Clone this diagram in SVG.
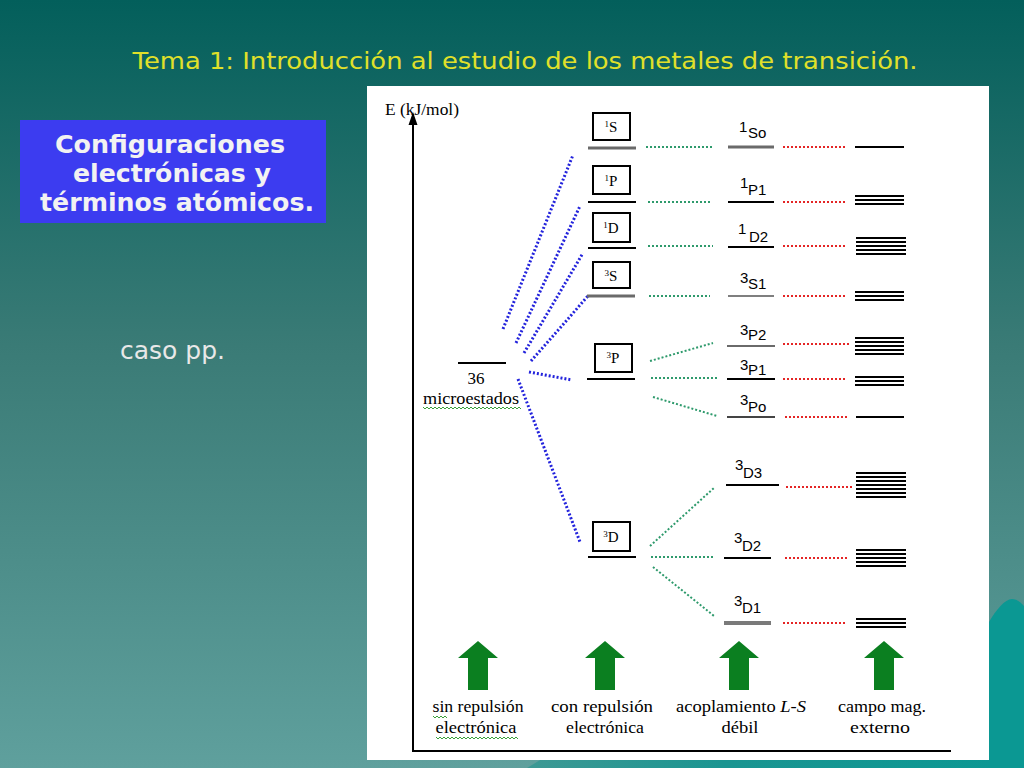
<svg xmlns="http://www.w3.org/2000/svg" width="1024" height="768" viewBox="0 0 1024 768">
<defs>
<linearGradient id="bg" x1="0" y1="0" x2="0" y2="1">
<stop offset="0" stop-color="#035f5b"/>
<stop offset="0.45" stop-color="#3a7b76"/>
<stop offset="1" stop-color="#5fa09d"/>
</linearGradient>
<linearGradient id="sw" x1="0" y1="0" x2="1" y2="0">
<stop offset="0" stop-color="#3d9994"/>
<stop offset="0.4" stop-color="#1a9591"/>
<stop offset="1" stop-color="#0a9893"/>
</linearGradient>
<path id="garrow" d="M0 0 L20 17 L10 17 L10 49 L-10 49 L-10 17 L-20 17 Z" fill="#0b7f20"/>
<style>
.lvl{stroke:#000;stroke-width:2}
.lvlg{stroke:#6a6a6a;stroke-width:3}
.lvlt{stroke:#555;stroke-width:1.5}
.fs{stroke:#000;stroke-width:2}
.blue{stroke:#2323dc;stroke-width:3;stroke-dasharray:2 2;fill:none}
.green{stroke:#2e9a6c;stroke-width:2;stroke-dasharray:2 2;fill:none}
.red{stroke:#e42525;stroke-width:2;stroke-dasharray:2 2;fill:none}
.box{fill:#fff;stroke:#000;stroke-width:2}
.ser{font-family:"Liberation Serif","Times New Roman",serif;fill:#000}
.sans{font-family:"Liberation Sans",Arial,sans-serif;fill:#000;font-size:15px}
.sq{stroke:#3aa03a;stroke-width:1;fill:none}
</style>
</defs>

<!-- background -->
<rect x="0" y="0" width="1024" height="768" fill="url(#bg)"/>
<path d="M527 768 L545 757 L1024 757 L1024 768 Z" fill="url(#sw)"/>
<path d="M989 622 C996 610 1005 599 1012 599 C1017 599 1021 603 1024 606 L1024 768 L989 768 Z" fill="#0b9893"/>

<!-- title -->
<text x="525" y="69" text-anchor="middle" font-family="DejaVu Sans, Verdana, sans-serif" font-size="23" fill="#e0e02a" textLength="785" lengthAdjust="spacingAndGlyphs">Tema 1: Introducción al estudio de los metales de transición.</text>

<!-- blue box -->
<g id="heading">
<rect x="20" y="120" width="306" height="103" fill="#3c3cf0"/>
<g font-family="DejaVu Sans, Verdana, sans-serif" font-weight="bold" font-size="24" fill="#f2f2f2">
<text x="55" y="153" textLength="230" lengthAdjust="spacingAndGlyphs">Configuraciones</text>
<text x="73" y="182" textLength="198" lengthAdjust="spacingAndGlyphs">electrónicas y</text>
<text x="40" y="211" textLength="274" lengthAdjust="spacingAndGlyphs">términos atómicos.</text>
</g>
</g>

<text x="120" y="359" font-family="DejaVu Sans, Verdana, sans-serif" font-size="24" fill="#e8e8e8" textLength="105" lengthAdjust="spacingAndGlyphs">caso pp.</text>

<!-- white panel -->
<rect x="367" y="86" width="622" height="674" fill="#fff"/>

<!-- axes -->
<g id="axes">
<line x1="413" y1="120" x2="413" y2="751" stroke="#000" stroke-width="2"/>
<line x1="412" y1="751" x2="951" y2="751" stroke="#000" stroke-width="2"/>
<path d="M413 112 L417.5 125 L408.5 125 Z" fill="#000"/>
<text class="ser" x="385" y="115" font-size="16" textLength="74" lengthAdjust="spacingAndGlyphs">E (kJ/mol)</text>
</g>

<!-- connectors -->
<g id="connectors">
<!-- blue: microstates to terms -->
<line class="blue" x1="503" y1="329" x2="573" y2="155"/>
<line class="blue" x1="516" y1="343" x2="580" y2="206"/>
<line class="blue" x1="524" y1="353" x2="583" y2="253"/>
<line class="blue" x1="531" y1="361" x2="588" y2="296"/>
<line class="blue" x1="529" y1="372" x2="572" y2="380"/>
<line class="blue" x1="518" y1="379" x2="580" y2="542"/>
<!-- green: terms to LS levels -->
<line class="green" x1="646" y1="147" x2="713" y2="147"/>
<line class="green" x1="648" y1="202" x2="710" y2="202"/>
<line class="green" x1="648" y1="246" x2="713" y2="246"/>
<line class="green" x1="649" y1="296" x2="710" y2="296"/>
<line class="green" x1="650" y1="361" x2="713" y2="343"/>
<line class="green" x1="651" y1="378" x2="717" y2="378"/>
<line class="green" x1="653" y1="397" x2="717" y2="416"/>
<line class="green" x1="650" y1="546" x2="715" y2="487"/>
<line class="green" x1="651" y1="557" x2="713" y2="557"/>
<line class="green" x1="653" y1="567" x2="714" y2="616"/>
<!-- red: LS levels to field splitting -->
<line class="red" x1="783" y1="147" x2="845" y2="147"/>
<line class="red" x1="783" y1="202" x2="845" y2="202"/>
<line class="red" x1="783" y1="246" x2="845" y2="246"/>
<line class="red" x1="783" y1="296" x2="845" y2="296"/>
<line class="red" x1="783" y1="344" x2="850" y2="344"/>
<line class="red" x1="783" y1="379" x2="845" y2="379"/>
<line class="red" x1="785" y1="417" x2="847" y2="417"/>
<line class="red" x1="786" y1="487" x2="853" y2="487"/>
<line class="red" x1="785" y1="558" x2="847" y2="558"/>
<line class="red" x1="783" y1="623" x2="845" y2="623"/>
</g>

<!-- microstates -->
<g id="microestados">
<line class="lvl" x1="458" y1="363" x2="506" y2="363"/>
<text class="ser" x="476" y="384" font-size="17" text-anchor="middle">36</text>
<text class="ser" x="423" y="404" font-size="16" textLength="96" lengthAdjust="spacingAndGlyphs">microestados</text>
<path class="sq" d="M423 407 l2 2 l2 -2 l2 2 l2 -2 l2 2 l2 -2 l2 2 l2 -2 l2 2 l2 -2 l2 2 l2 -2 l2 2 l2 -2 l2 2 l2 -2 l2 2 l2 -2 l2 2 l2 -2 l2 2 l2 -2 l2 2 l2 -2 l2 2 l2 -2 l2 2 l2 -2 l2 2 l2 -2 l2 2 l2 -2 l2 2 l2 -2 l2 2 l2 -2 l2 2 l2 -2 l2 2 l2 -2 l2 2 l2 -2 l2 2 l2 -2 l2 2 l2 -2 l2 2 l2 -2 l2 2"/>
</g>

<!-- Russell-Saunders terms -->
<g id="term-1S">
<rect class="box" x="593" y="113" width="37" height="27"/>
<text class="ser" x="611" y="132" font-size="15" text-anchor="middle"><tspan font-size="9" dy="-5">1</tspan><tspan dy="5">S</tspan></text>
<line class="lvlg" x1="588" y1="148" x2="636" y2="148"/>
</g>
<g id="term-1P">
<rect class="box" x="593" y="166" width="37" height="28"/>
<text class="ser" x="611" y="186" font-size="15" text-anchor="middle"><tspan font-size="9" dy="-5">1</tspan><tspan dy="5">P</tspan></text>
<line class="lvl" x1="588" y1="202" x2="636" y2="202"/>
</g>
<g id="term-1D">
<rect class="box" x="593" y="213" width="37" height="29"/>
<text class="ser" x="611" y="233" font-size="15" text-anchor="middle"><tspan font-size="9" dy="-5">1</tspan><tspan dy="5">D</tspan></text>
<line class="lvl" x1="588" y1="248" x2="636" y2="248"/>
</g>
<g id="term-3S">
<rect class="box" x="593" y="262" width="37" height="26"/>
<text class="ser" x="611" y="281" font-size="15" text-anchor="middle"><tspan font-size="9" dy="-5">3</tspan><tspan dy="5">S</tspan></text>
<line class="lvlg" x1="587" y1="296" x2="635" y2="296"/>
</g>
<g id="term-3P">
<rect class="box" x="595" y="344" width="37" height="28"/>
<text class="ser" x="613" y="363" font-size="15" text-anchor="middle"><tspan font-size="9" dy="-5">3</tspan><tspan dy="5">P</tspan></text>
<line class="lvl" x1="587" y1="379" x2="635" y2="379"/>
</g>
<g id="term-3D">
<rect class="box" x="593" y="522" width="37" height="29"/>
<text class="ser" x="611" y="542" font-size="15" text-anchor="middle"><tspan font-size="9" dy="-5">3</tspan><tspan dy="5">D</tspan></text>
<line class="lvl" x1="588" y1="557" x2="636" y2="557"/>
</g>

<!-- LS coupling levels -->
<g id="level-1S0">
<line class="lvlg" x1="728" y1="147" x2="774" y2="147"/>
<text class="sans" x="739" y="132">1</text><text class="sans" x="748" y="138">So</text>
</g>
<g id="level-1P1">
<line class="lvl" x1="728" y1="202" x2="774" y2="202"/>
<text class="sans" x="740" y="188">1</text><text class="sans" x="748" y="195">P1</text>
</g>
<g id="level-1D2">
<line class="lvl" x1="728" y1="247" x2="774" y2="247"/>
<text class="sans" x="738" y="234">1</text><text class="sans" x="749" y="242">D2</text>
</g>
<g id="level-3S1">
<line class="lvlt" x1="728" y1="296" x2="774" y2="296"/>
<text class="sans" x="740" y="283">3</text><text class="sans" x="748" y="289">S1</text>
</g>
<g id="level-3P2">
<line class="lvlg" x1="727" y1="346" x2="775" y2="346" style="stroke-width:2"/>
<text class="sans" x="740" y="335">3</text><text class="sans" x="748" y="340">P2</text>
</g>
<g id="level-3P1">
<line class="lvl" x1="727" y1="379" x2="775" y2="379"/>
<text class="sans" x="740" y="370">3</text><text class="sans" x="748" y="375">P1</text>
</g>
<g id="level-3P0">
<line class="lvl" x1="727" y1="417" x2="775" y2="417" style="stroke:#444"/>
<text class="sans" x="740" y="405">3</text><text class="sans" x="748" y="412">Po</text>
</g>
<g id="level-3D3">
<line class="lvl" x1="726" y1="485" x2="779" y2="485"/>
<text class="sans" x="735" y="470">3</text><text class="sans" x="743" y="478">D3</text>
</g>
<g id="level-3D2">
<line class="lvl" x1="724" y1="558" x2="771" y2="558"/>
<text class="sans" x="734" y="543">3</text><text class="sans" x="742" y="551">D2</text>
</g>
<g id="level-3D1">
<line x1="724" y1="623" x2="771" y2="623" stroke="#7a7a7a" stroke-width="4"/>
<text class="sans" x="734" y="606">3</text><text class="sans" x="742" y="613">D1</text>
</g>

<!-- field splitting -->
<g id="field-1S0"><line class="fs" x1="855" y1="147" x2="904" y2="147"/></g>
<g id="field-1P1">
<line class="fs" x1="855" y1="196" x2="904" y2="196"/><line class="fs" x1="855" y1="200" x2="904" y2="200"/><line class="fs" x1="855" y1="204" x2="904" y2="204"/>
</g>
<g id="field-1D2">
<line class="fs" x1="856" y1="238" x2="906" y2="238"/><line class="fs" x1="856" y1="242" x2="906" y2="242"/><line class="fs" x1="856" y1="246" x2="906" y2="246"/><line class="fs" x1="856" y1="250" x2="906" y2="250"/><line class="fs" x1="856" y1="254" x2="906" y2="254"/>
</g>
<g id="field-3S1">
<line class="fs" x1="855" y1="292" x2="904" y2="292"/><line class="fs" x1="855" y1="296" x2="904" y2="296"/><line class="fs" x1="855" y1="300" x2="904" y2="300"/>
</g>
<g id="field-3P2">
<line class="fs" x1="855" y1="338" x2="904" y2="338"/><line class="fs" x1="855" y1="342" x2="904" y2="342"/><line class="fs" x1="855" y1="346" x2="904" y2="346"/><line class="fs" x1="855" y1="350" x2="904" y2="350"/><line class="fs" x1="855" y1="354" x2="904" y2="354"/>
</g>
<g id="field-3P1">
<line class="fs" x1="855" y1="377" x2="904" y2="377"/><line class="fs" x1="855" y1="381" x2="904" y2="381"/><line class="fs" x1="855" y1="385" x2="904" y2="385"/>
</g>
<g id="field-3P0"><line class="fs" x1="856" y1="417" x2="904" y2="417"/></g>
<g id="field-3D3">
<line class="fs" x1="856" y1="473" x2="906" y2="473"/><line class="fs" x1="856" y1="477" x2="906" y2="477"/><line class="fs" x1="856" y1="481" x2="906" y2="481"/><line class="fs" x1="856" y1="485" x2="906" y2="485"/><line class="fs" x1="856" y1="489" x2="906" y2="489"/><line class="fs" x1="856" y1="493" x2="906" y2="493"/><line class="fs" x1="856" y1="497" x2="906" y2="497"/>
</g>
<g id="field-3D2">
<line class="fs" x1="856" y1="550" x2="906" y2="550"/><line class="fs" x1="856" y1="554" x2="906" y2="554"/><line class="fs" x1="856" y1="558" x2="906" y2="558"/><line class="fs" x1="856" y1="562" x2="906" y2="562"/><line class="fs" x1="856" y1="566" x2="906" y2="566"/>
</g>
<g id="field-3D1">
<line class="fs" x1="856" y1="619" x2="906" y2="619"/><line class="fs" x1="856" y1="623" x2="906" y2="623"/><line class="fs" x1="856" y1="627" x2="906" y2="627"/>
</g>

<!-- bottom arrows and labels -->
<g id="stage-1">
<use href="#garrow" transform="translate(478,641)"/>
<text class="ser" x="478" y="712" font-size="16" text-anchor="middle" textLength="91" lengthAdjust="spacingAndGlyphs">sin repulsión</text>
<text class="ser" x="476" y="733" font-size="16" text-anchor="middle" textLength="81" lengthAdjust="spacingAndGlyphs">electrónica</text>
<path class="sq" d="M433 716 l2 2 l2 -2 l2 2 l2 -2 l2 2 l2 -2 l2 2"/>
<path class="sq" d="M436 737 l2 2 l2 -2 l2 2 l2 -2 l2 2 l2 -2 l2 2 l2 -2 l2 2 l2 -2 l2 2 l2 -2 l2 2 l2 -2 l2 2 l2 -2 l2 2 l2 -2 l2 2 l2 -2 l2 2 l2 -2 l2 2 l2 -2 l2 2 l2 -2 l2 2 l2 -2 l2 2 l2 -2 l2 2 l2 -2 l2 2 l2 -2 l2 2 l2 -2 l2 2 l2 -2 l2 2 l2 -2 l2 2"/>
</g>
<g id="stage-2">
<use href="#garrow" transform="translate(605,641)"/>
<text class="ser" x="602" y="712" font-size="16" text-anchor="middle" textLength="102" lengthAdjust="spacingAndGlyphs">con repulsión</text>
<text class="ser" x="605" y="733" font-size="16" text-anchor="middle" textLength="78" lengthAdjust="spacingAndGlyphs">electrónica</text>
</g>
<g id="stage-3">
<use href="#garrow" transform="translate(739,641)"/>
<text class="ser" x="741" y="712" font-size="16" text-anchor="middle" textLength="130" lengthAdjust="spacingAndGlyphs">acoplamiento <tspan font-style="italic">L-S</tspan></text>
<text class="ser" x="740" y="733" font-size="16" text-anchor="middle" textLength="37" lengthAdjust="spacingAndGlyphs">débil</text>
</g>
<g id="stage-4">
<use href="#garrow" transform="translate(884,641)"/>
<text class="ser" x="882" y="712" font-size="16" text-anchor="middle" textLength="88" lengthAdjust="spacingAndGlyphs">campo mag.</text>
<text class="ser" x="880" y="733" font-size="16" text-anchor="middle" textLength="60" lengthAdjust="spacingAndGlyphs">externo</text>
</g>
</svg>
